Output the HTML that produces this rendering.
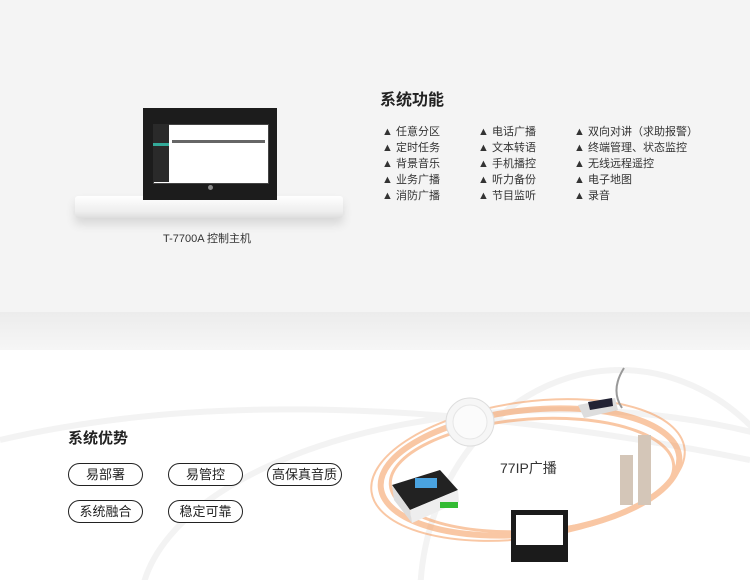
<!DOCTYPE html>
<html><head><meta charset="utf-8"><style>
html,body{margin:0;width:750px;height:580px;overflow:hidden}
body{font-family:"Liberation Sans","Noto Sans CJK SC",sans-serif;background:#fff;position:relative}
.top{position:absolute;left:0;top:0;width:750px;height:312px;background:#f4f4f4}
.band{position:absolute;left:0;top:312px;width:750px;height:38px;background:linear-gradient(#ececec,#f6f6f6)}
.t{position:absolute;color:#333;white-space:nowrap}
.f{font-size:11px;color:#333}
.pill{position:absolute;width:73px;height:21px;border:1.5px solid #222;border-radius:12px;text-align:center;line-height:21px;font-size:13px;color:#222;background:#fff}
</style></head><body>
<div class="top"></div><div class="band"></div>
<div style="position:absolute;left:75px;top:196px;width:268px;height:22px;background:linear-gradient(#fff,#eee 70%,#ddd);border-radius:3px;box-shadow:0 6px 10px rgba(0,0,0,.12)"></div>
<div style="position:absolute;left:143px;top:108px;width:134px;height:92px;background:#1c1c1c"></div>
<div style="position:absolute;left:153px;top:124px;width:114px;height:58px;background:#fff;border:1px solid #444"></div>
<div style="position:absolute;left:153px;top:124px;width:16px;height:58px;background:#2a2a2a"></div>
<div style="position:absolute;left:153px;top:143px;width:16px;height:3px;background:#3a9"></div>
<div style="position:absolute;left:172px;top:140px;width:93px;height:3px;background:#666"></div>
<div style="position:absolute;left:208px;top:185px;width:5px;height:5px;border-radius:50%;background:#888"></div>
<div class="t" style="left:163px;top:230px;font-size:11px;color:#333">T-7700A 控制主机</div>
<div class="t" style="left:380px;top:86px;font-size:16px;font-weight:bold;color:#222">系统功能</div>
<div class="t f" style="left:382px;top:124px;line-height:16px">▲ 任意分区<br>▲ 定时任务<br>▲ 背景音乐<br>▲ 业务广播<br>▲ 消防广播</div>
<div class="t f" style="left:478px;top:124px;line-height:16px">▲ 电话广播<br>▲ 文本转语<br>▲ 手机播控<br>▲ 听力备份<br>▲ 节目监听</div>
<div class="t f" style="left:574px;top:124px;line-height:16px">▲ 双向对讲（求助报警）<br>▲ 终端管理、状态监控<br>▲ 无线远程遥控<br>▲ 电子地图<br>▲ 录音</div>
<svg style="position:absolute;left:0;top:350px;display:block" width="750" height="230">
<g fill="none" stroke="#f3f3f3" stroke-width="6">
<ellipse cx="560" cy="260" rx="420" ry="200"/>
<ellipse cx="620" cy="250" rx="200" ry="230"/>
<path d="M0 90 Q300 20 750 110"/>
</g>
<g fill="none" stroke="#f59a5a" opacity=".55">
<ellipse cx="530" cy="122" rx="150" ry="62" transform="rotate(-6 530 122)" stroke-width="6"/>
<ellipse cx="532" cy="125" rx="142" ry="56" transform="rotate(-4 532 125)" stroke-width="3"/>
<ellipse cx="528" cy="120" rx="158" ry="68" transform="rotate(-8 528 120)" stroke-width="2"/>
</g>
<circle cx="470" cy="72" r="24" fill="#f6f6f6" stroke="#ddd"/>
<circle cx="470" cy="72" r="17" fill="#fbfbfb" stroke="#e6e6e6"/>
<path d="M622 58 Q610 40 624 18" stroke="#999" stroke-width="2" fill="none"/>
<polygon points="578,55 615,48 618,60 584,68" fill="#ddd"/>
<polygon points="588,52 612,48 613,56 590,60" fill="#223"/>
<rect x="620" y="105" width="13" height="50" fill="#d4c6b8"/>
<rect x="638" y="85" width="13" height="70" fill="#d4c6b8"/>
<polygon points="392,135 440,120 458,140 410,160" fill="#222"/>
<polygon points="392,135 410,160 412,173 394,150" fill="#ddd"/>
<polygon points="410,160 458,140 459,152 412,173" fill="#eee"/>
<rect x="415" y="128" width="22" height="10" fill="#4aa3e0"/>
<rect x="440" y="152" width="18" height="6" fill="#3b3"/>
<rect x="511" y="160" width="57" height="52" fill="#1b1b1b"/>
<rect x="516" y="165" width="47" height="30" fill="#fff"/>
</svg>
<div class="t" style="left:500px;top:458px;font-size:14px;color:#333">77IP广播</div>
<div class="t" style="left:68px;top:427px;font-size:15px;font-weight:bold;color:#222">系统优势</div>
<div class="pill" style="left:68px;top:463px">易部署</div>
<div class="pill" style="left:168px;top:463px">易管控</div>
<div class="pill" style="left:267px;top:463px">高保真音质</div>
<div class="pill" style="left:68px;top:500px">系统融合</div>
<div class="pill" style="left:168px;top:500px">稳定可靠</div>
</body></html>
